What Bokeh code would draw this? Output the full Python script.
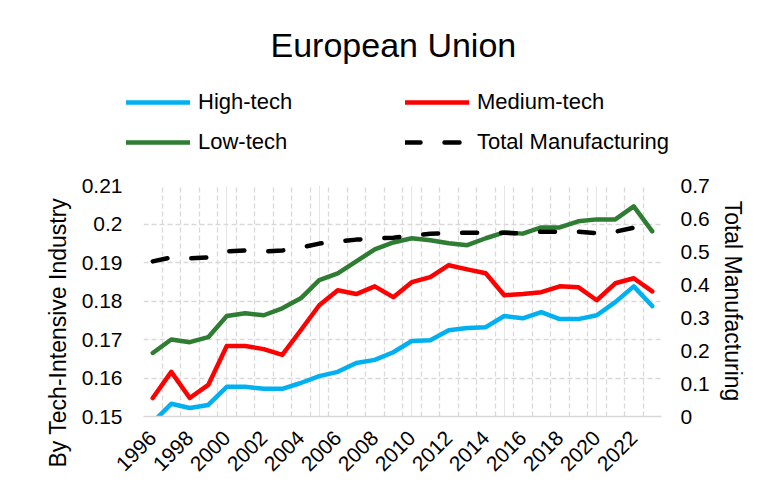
import math
from bokeh.plotting import figure
from bokeh.layouts import column
from bokeh.models import (Range1d, LinearAxis, FixedTicker, Legend, LegendItem, Title, Grid,
                          Label, CustomJSTickFormatter)
from bokeh.embed import file_html
from bokeh.resources import INLINE

# ---------------- data ----------------
years = list(range(1996, 2024))
high_tech = [0.1485, 0.1533, 0.1522, 0.1530, 0.1577, 0.1577, 0.1572, 0.1572, 0.1587, 0.1605,
             0.1616, 0.1639, 0.1647, 0.1667, 0.1696, 0.1698, 0.1724, 0.1730, 0.1732, 0.1761,
             0.1755, 0.1771, 0.1753, 0.1753, 0.1763, 0.1797, 0.1838, 0.1787]
medium_tech = [0.1548, 0.1616, 0.1548, 0.1582, 0.1683, 0.1683, 0.1675, 0.1660, 0.1724, 0.1789,
               0.1828, 0.1818, 0.1838, 0.1810, 0.1849, 0.1862, 0.1893, 0.1882, 0.1872, 0.1815,
               0.1818, 0.1823, 0.1838, 0.1836, 0.1802, 0.1846, 0.1859, 0.1825]
low_tech = [0.1665, 0.1700, 0.1693, 0.1706, 0.1761, 0.1768, 0.1763, 0.1781, 0.1807, 0.1854,
            0.1872, 0.1903, 0.1934, 0.1952, 0.1963, 0.1958, 0.1950, 0.1945, 0.1963, 0.1978,
            0.1975, 0.1991, 0.1991, 0.2007, 0.2012, 0.2012, 0.2046, 0.1981]
total_mfg = [0.470, 0.482, 0.479, 0.482, 0.500, 0.503, 0.500, 0.503, 0.512, 0.524,
             0.530, 0.536, 0.539, 0.542, 0.548, 0.554, 0.555, 0.557, 0.557, 0.557,
             0.554, 0.560, 0.560, 0.560, 0.555, 0.560, 0.572, 0.566]
left_ticks = [0.15, 0.16, 0.17, 0.18, 0.19, 0.2, 0.21]
right_ticks = [0, 0.1, 0.2, 0.3, 0.4, 0.5, 0.6, 0.7]
x_tick_years = years[::2]

series_names = ["High-tech", "Medium-tech", "Low-tech", "Total Manufacturing"]
title_text = "European Union"
left_label = "By Tech-Intensive Industry"
right_label = "Total Manufacturing"

FONT = "Liberation Sans"
GRID = "#D9D9D9"
COLORS = ["#00B0F0", "#FF0000", "#2E7D32", "black"]
HEAD_H = 170
W, H = 767, 495

common = dict(line_width=4.5, line_cap="round", line_join="round")
dash_tot = "15 24"

# ---------------- header: title + legend ----------------
head = figure(width=W, height=HEAD_H, output_backend="svg", toolbar_location=None,
              x_range=Range1d(0, 1), y_range=Range1d(0, 1),
              x_axis_location=None, y_axis_location=None, min_border=0)
head.frame_align = False
head.outline_line_color = None
head.xgrid.visible = False
head.ygrid.visible = False
proxies = []
for i, name in enumerate(series_names):
    kw = dict(common)
    if i == 3:
        kw["line_dash"] = dash_tot
    # legend-only proxy renderer (no visible data)
    proxies.append(head.line(x=[float("nan")], y=[float("nan")], color=COLORS[i], **kw))
head_legend = Legend(items=[LegendItem(label=n, renderers=[r]) for n, r in zip(series_names, proxies)],
                     orientation="horizontal", ncols=2,
                     location=(126, HEAD_H - 161), glyph_width=64, glyph_height=38, label_height=38,
                     label_width=205, spacing=2, label_standoff=8, padding=0, margin=0,
                     border_line_color=None, background_fill_alpha=0,
                     label_text_font=FONT, label_text_font_size="22px", label_text_color="black")
head.add_layout(head_legend)
head.add_layout(Label(x=270, y=HEAD_H - 44, x_units="screen", y_units="screen", text=title_text,
                      text_align="left", text_baseline="alphabetic",
                      text_font=FONT, text_font_size="34px", text_color="black"))

# ---------------- main chart ----------------
x_lo, x_hi = years[0] - 0.5, years[-1] + 0.5
p = figure(width=W, height=H - HEAD_H, output_backend="svg", toolbar_location=None,
           x_range=Range1d(x_lo, x_hi),
           y_range=Range1d(left_ticks[0], left_ticks[-1]),
           x_axis_location=None,
           min_border_left=143, min_border_right=106, min_border_top=185 - HEAD_H,
           min_border_bottom=79)
p.frame_align = False
p.outline_line_color = None

fmt = CustomJSTickFormatter(code="return String(parseFloat(tick.toFixed(3)));")

def style_axis(ax, standoff):
    ax.axis_line_color = None
    ax.major_tick_line_color = None
    ax.minor_tick_line_color = None
    ax.major_tick_out = 0
    ax.major_tick_in = 0
    ax.minor_tick_out = 0
    ax.minor_tick_in = 0
    ax.major_label_standoff = standoff
    ax.major_label_text_font = FONT
    ax.major_label_text_font_size = "21px"
    ax.major_label_text_color = "black"

yax = p.yaxis[0]
yax.ticker = FixedTicker(ticks=left_ticks)
yax.formatter = fmt
style_axis(yax, 21)

xax = LinearAxis(ticker=FixedTicker(ticks=x_tick_years))
style_axis(xax, 18)
xax.major_label_orientation = math.pi / 4
xax.axis_line_color = GRID
xax.axis_line_width = 1.5
p.add_layout(xax, "below")

p.extra_y_ranges = {"total": Range1d(right_ticks[0], right_ticks[-1])}
rax = LinearAxis(y_range_name="total", ticker=FixedTicker(ticks=right_ticks), formatter=fmt)
style_axis(rax, 19)
rax.axis_label = right_label
rax.axis_label_standoff = 7
rax.axis_label_text_font = FONT
rax.axis_label_text_font_size = "23px"
rax.axis_label_text_font_style = "normal"
rax.axis_label_text_color = "black"
p.add_layout(rax, "right")

p.add_layout(Grid(dimension=0, ticker=FixedTicker(ticks=[y - 0.5 for y in years] + [x_hi]),
                  grid_line_color=GRID, grid_line_width=1.3, grid_line_dash="5 3"))
p.ygrid.grid_line_color = GRID
p.ygrid.grid_line_width = 1.3
p.ygrid.grid_line_dash = "5 3"

p.line(years, high_tech, color=COLORS[0], **common)
p.line(years, medium_tech, color=COLORS[1], **common)
p.line(years, low_tech, color=COLORS[2], **common)
p.line(years, total_mfg, color=COLORS[3], y_range_name="total", line_dash=dash_tot, **common)

p.add_layout(Title(text=left_label, align="left", offset=-51, standoff=16,
                   text_font=FONT, text_font_size="23px", text_font_style="normal",
                   text_color="black"), "left")

open("out.html", "w").write(file_html(column(head, p, spacing=0), INLINE))
